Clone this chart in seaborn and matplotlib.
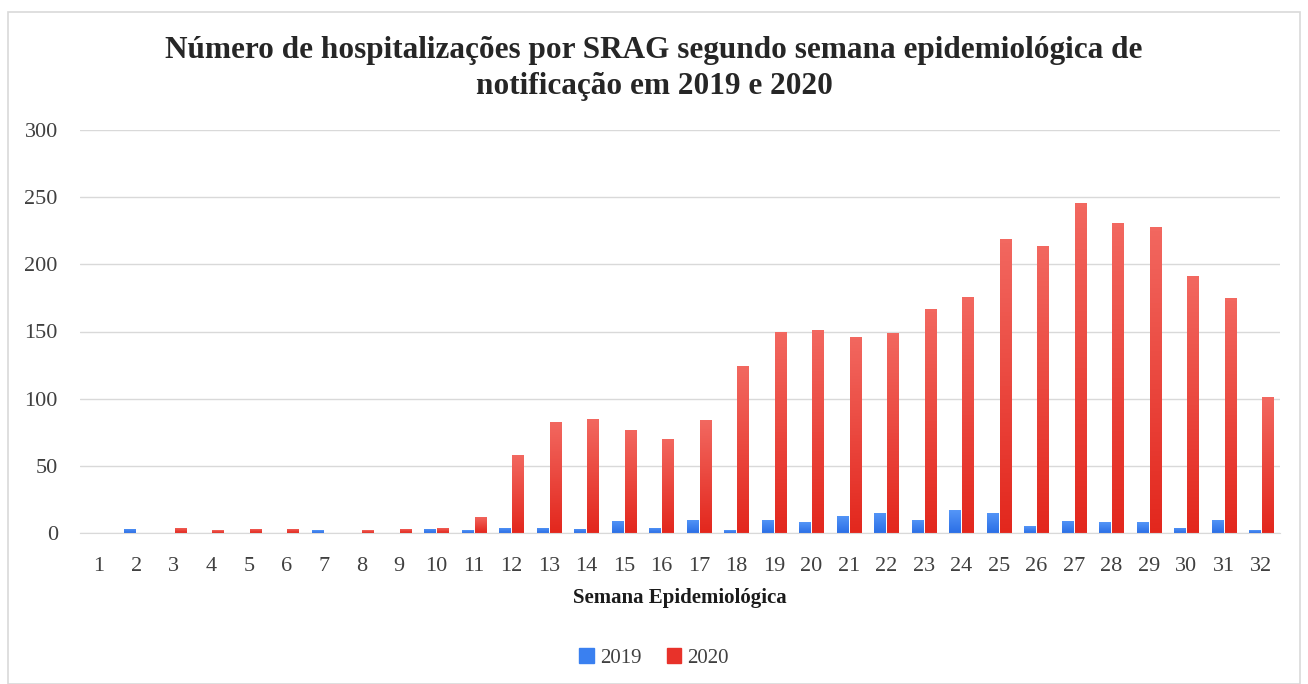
import numpy as np
import pandas as pd
import matplotlib
matplotlib.use("Agg")
import matplotlib.pyplot as plt
import matplotlib.colors as mcolors
from matplotlib.patches import Rectangle
import seaborn as sns

semanas = list(range(1, 33))
casos_2019 = [0, 3, 0, 0, 0, 0, 2, 0, 0, 3, 2, 4, 4, 3, 9, 4, 10, 2, 10, 8, 13, 15,
              10, 17, 15, 5, 9, 8, 8, 4, 10, 2]
casos_2020 = [0, 0, 4, 2, 3, 3, 0, 2, 3, 4, 12, 58, 83, 85, 77, 70, 84, 124, 150, 151,
              146, 149, 167, 176, 219, 214, 246, 231, 228, 191, 175, 101]
anos = ["2019", "2020"]

df = pd.DataFrame({
    "semana": semanas * 2,
    "casos": casos_2019 + casos_2020,
    "ano": [anos[0]] * len(semanas) + [anos[1]] * len(semanas),
})

# (bottom, top) colours of the gradient for each year
gradientes = {"2019": ("#2b6fe6", "#5596f7"), "2020": ("#e3271d", "#f26860")}
cores = {"2019": "#3a80f0", "2020": "#e8322a"}

sns.set_style("white")
plt.rcParams["font.family"] = ["Liberation Serif", "DejaVu Serif"]

fig = plt.figure(figsize=(13.08, 6.84), dpi=100)
ax = fig.add_axes([80 / 1308, 1 - 533 / 684, 1200 / 1308, 403 / 684])

sns.barplot(data=df, x="semana", y="casos", hue="ano", palette=cores,
            saturation=1, width=0.68, gap=0.12, ax=ax, legend=False)

# gradient fill, like the original spreadsheet chart
n = len(semanas)
for i, bar in enumerate(list(ax.patches)):
    x, w, h = bar.get_x(), bar.get_width(), bar.get_height()
    if h <= 0:
        bar.set_visible(False)
        continue
    c_bot, c_top = gradientes[anos[i // n]]
    cmap = mcolors.LinearSegmentedColormap.from_list("g", [c_bot, c_top])
    grad = np.linspace(0, 1, 64).reshape(-1, 1)
    im = ax.imshow(grad, cmap=cmap, origin="lower", aspect="auto",
                   extent=(x, x + w, 0, h), zorder=bar.get_zorder())
    im.set_clip_path(bar)
    bar.set_facecolor("none")
    bar.set_edgecolor("none")

ax.set_xlim(-0.5, 31.5)
ax.set_ylim(0, 300)
ax.set_yticks(range(0, 301, 50))
ax.yaxis.grid(True, color="#d9d9d9", linewidth=1)
ax.set_axisbelow(True)
for s in ["top", "right", "left"]:
    ax.spines[s].set_visible(False)
ax.spines["bottom"].set_color("#d9d9d9")
ax.tick_params(axis="both", length=0, labelsize=16, colors="#404040")
ax.tick_params(axis="y", pad=16)
ax.tick_params(axis="x", pad=17)
ax.set_ylabel("")
ax.set_xlabel("Semana Epidemiológica", fontsize=15, fontweight="bold",
              color="#1a1a1a", labelpad=9)

fig.suptitle("Número de hospitalizações por SRAG segundo semana epidemiológica de\n"
             "notificação em 2019 e 2020", x=0.5, y=0.947, fontsize=22.5,
             fontweight="bold", linespacing=1.3)

handles = [Rectangle((0, 0), 1, 1, color=cores[a]) for a in anos]
fig.legend(handles, anos, loc="center", bbox_to_anchor=(0.5, 1 - 658 / 684),
           ncol=2, frameon=False, fontsize=15, handlelength=0.7, handleheight=0.7,
           handletextpad=0.3, columnspacing=1.2, labelcolor="#404040")

fig.patches.append(Rectangle((8 / 1308, 0), 1292 / 1308, 1 - 12 / 684,
                             transform=fig.transFigure, fill=False,
                             edgecolor="#d9d9d9", linewidth=1.2))

fig.savefig("out.png", dpi=100)
